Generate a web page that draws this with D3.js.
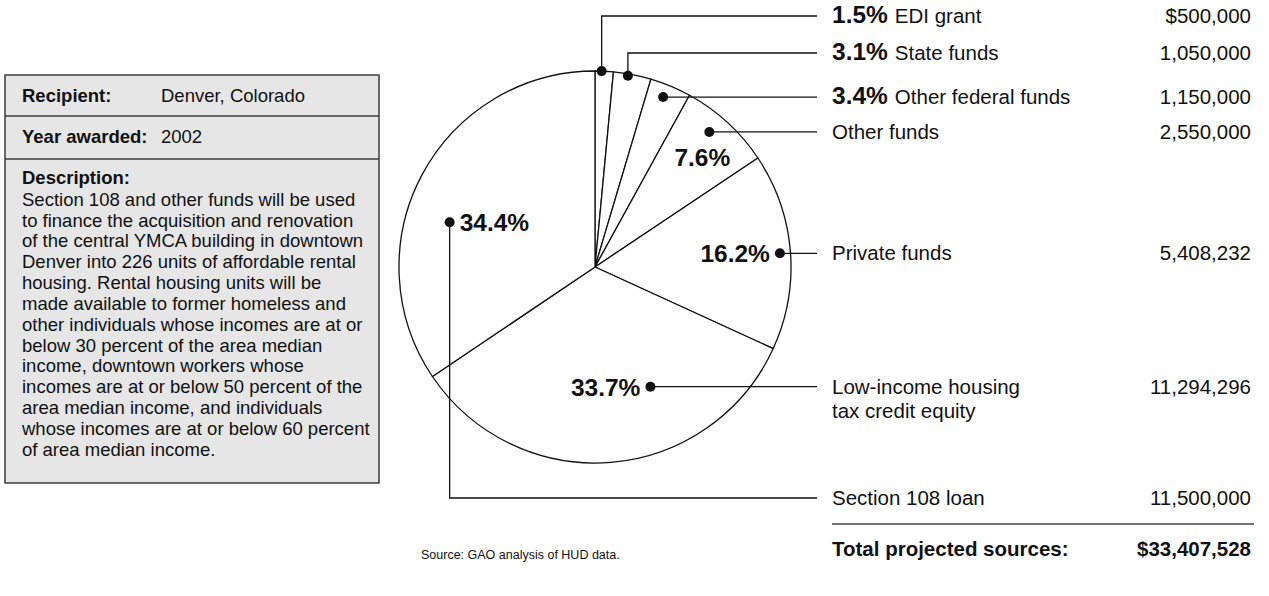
<!DOCTYPE html>
<html>
<head>
<meta charset="utf-8">
<script src="https://cdn.jsdelivr.net/npm/d3@7"></script>
<style>
  html, body { margin: 0; padding: 0; background: #fff; }
  svg { display: block; font-family: "Liberation Sans", Arial, Helvetica, sans-serif; }
</style>
</head>
<body>
<svg id="chart" width="1269" height="596"></svg>
<script>
// Funding sources, in pie order (clockwise from 12 o'clock)
const categories = [
  "EDI grant", "State funds", "Other federal funds", "Other funds",
  "Private funds", "Low-income housing tax credit equity", "Section 108 loan"
];
const categoryLines = [
  ["EDI grant"], ["State funds"], ["Other federal funds"], ["Other funds"],
  ["Private funds"], ["Low-income housing", "tax credit equity"], ["Section 108 loan"]
];
const shares = [1.5, 3.1, 3.4, 7.6, 16.2, 33.7, 34.4];
const amounts = [500000, 1050000, 1150000, 2550000, 5408232, 11294296, 11500000];
const totalLabel = "Total projected sources:";
const totalAmount = 33407528;

const infoRows = [
  { label: "Recipient:", value: "Denver, Colorado" },
  { label: "Year awarded:", value: "2002" }
];
const descriptionTitle = "Description:";
const descriptionLines = [
  "Section 108 and other funds will be used",
  "to finance the acquisition and renovation",
  "of the central YMCA building in downtown",
  "Denver into 226 units of affordable rental",
  "housing. Rental housing units will be",
  "made available to former homeless and",
  "other individuals whose incomes are at or",
  "below 30 percent of the area median",
  "income, downtown workers whose",
  "incomes are at or below 50 percent of the",
  "area median income, and individuals",
  "whose incomes are at or below 60 percent",
  "of area median income."
];
const sourceNote = "Source: GAO analysis of HUD data.";

// ---- layout ----
const svg = d3.select("#chart");
const cx = 595, cy = 267, R = 196;
const leaderEndX = 817, labelX = 832, amountX = 1251;
const ink = "#111";

// Where each slice's dot sits (fraction across the slice, fraction of radius),
// and how its percentage is shown.
const anchors = [
  { t: 0.36, rf: 1.0,  row: 16,  pct: "legend" },
  { t: 0.39, rf: 0.99, row: 53,  pct: "legend" },
  { t: 0.43, rf: 0.934,          pct: "legend" },
  { t: 0.417, rf: 0.903,         pct: "inside", dx: -7,  dy: 34, anchor: "middle" },
  { t: 0.506, rf: 0.946,         pct: "inside", dx: -10, dy: 9,  anchor: "end" },
  { t: 0.334, rf: 0.673,         pct: "inside", dx: -10, dy: 9,  anchor: "end" },
  { t: 0.412, rf: 0.776, row: 498, pct: "inside", dx: 10, dy: 9, anchor: "start" }
];

const fmtPct = v => d3.format(".1f")(v) + "%";
const fmtNum = d3.format(",");

// ---- info box ----
const box = svg.append("g");
const bx = 5, by = 75, bw = 374, bh = 408;
box.append("rect").attr("x", bx).attr("y", by).attr("width", bw).attr("height", bh)
  .attr("fill", "#e6e6e6").attr("stroke", "#3c3c3c").attr("stroke-width", 1.5);
[116, 159].forEach(y => box.append("line")
  .attr("x1", bx).attr("x2", bx + bw).attr("y1", y).attr("y2", y)
  .attr("stroke", "#3c3c3c").attr("stroke-width", 1.5));

const boxFont = 18.5;
infoRows.forEach((r, i) => {
  const y = [102, 143][i];
  box.append("text").attr("x", 22).attr("y", y).attr("font-size", boxFont)
    .attr("font-weight", "bold").attr("fill", ink).text(r.label);
  box.append("text").attr("x", 161).attr("y", y).attr("font-size", boxFont)
    .attr("fill", ink).text(r.value);
});
box.append("text").attr("x", 22).attr("y", 184).attr("font-size", boxFont)
  .attr("font-weight", "bold").attr("fill", ink).text(descriptionTitle);
box.append("g").selectAll("text").data(descriptionLines).join("text")
  .attr("x", 22).attr("y", (d, i) => 205.7 + i * 20.83)
  .attr("font-size", boxFont).attr("fill", ink).text(d => d);

// ---- pie ----
const pie = d3.pie().sort(null).value(d => d);
const arcs = pie(shares);
const arc = d3.arc().innerRadius(0).outerRadius(R);
const g = svg.append("g").attr("transform", `translate(${cx},${cy})`);
g.selectAll("path").data(arcs).join("path")
  .attr("d", arc).attr("fill", "#fff")
  .attr("stroke", ink).attr("stroke-width", 1.3).attr("stroke-linejoin", "round");

const polar = (a, r) => [cx + r * Math.sin(a), cy - r * Math.cos(a)];
const dots = arcs.map((d, i) => {
  const a = d.startAngle + anchors[i].t * (d.endAngle - d.startAngle);
  return polar(a, anchors[i].rf * R);
});

// leader lines
const leaders = svg.append("g").attr("fill", "none").attr("stroke", ink).attr("stroke-width", 1.3);
const rowY = dots.map((p, i) => anchors[i].row !== undefined ? anchors[i].row : p[1]);
dots.forEach((p, i) => {
  const path = d3.path();
  path.moveTo(p[0], p[1]);
  if (anchors[i].row !== undefined) path.lineTo(p[0], rowY[i]);
  path.lineTo(leaderEndX, rowY[i]);
  leaders.append("path").attr("d", path.toString());
});
svg.append("g").selectAll("circle").data(dots).join("circle")
  .attr("cx", d => d[0]).attr("cy", d => d[1]).attr("r", 5).attr("fill", ink);

// percentages drawn on the pie
arcs.forEach((d, i) => {
  const an = anchors[i];
  if (an.pct !== "inside") return;
  svg.append("text").attr("x", dots[i][0] + an.dx).attr("y", dots[i][1] + an.dy)
    .attr("text-anchor", an.anchor).attr("font-size", 24.5).attr("font-weight", "bold")
    .attr("fill", ink).text(fmtPct(shares[i]));
});

// ---- right-hand table ----
const labelFont = 20.5;
const table = svg.append("g");
categoryLines.forEach((lines, i) => {
  const y = rowY[i] + 7;
  const t = table.append("text").attr("x", labelX).attr("y", y)
    .attr("font-size", labelFont).attr("fill", ink);
  if (anchors[i].pct === "legend") {
    t.append("tspan").attr("font-weight", "bold").attr("font-size", 24.5).text(fmtPct(shares[i]));
    t.append("tspan").attr("dx", 7).text(lines[0]);
  } else {
    t.text(lines[0]);
  }
  lines.slice(1).forEach((ln, k) => table.append("text").attr("x", labelX)
    .attr("y", y + 24 * (k + 1)).attr("font-size", labelFont).attr("fill", ink).text(ln));
  table.append("text").attr("x", amountX).attr("y", y).attr("text-anchor", "end")
    .attr("font-size", labelFont).attr("fill", ink)
    .text((i === 0 ? "$" : "") + fmtNum(amounts[i]));
});

table.append("line").attr("x1", labelX).attr("x2", 1254).attr("y1", 524).attr("y2", 524)
  .attr("stroke", "#444").attr("stroke-width", 1.5);
table.append("text").attr("x", labelX).attr("y", 556).attr("font-size", labelFont)
  .attr("font-weight", "bold").attr("fill", ink).text(totalLabel);
table.append("text").attr("x", amountX).attr("y", 556).attr("text-anchor", "end")
  .attr("font-size", labelFont).attr("font-weight", "bold").attr("fill", ink)
  .text("$" + fmtNum(totalAmount));

// source note
svg.append("text").attr("x", 421).attr("y", 559).attr("font-size", 12.5)
  .attr("fill", ink).text(sourceNote);
</script>
</body>
</html>
